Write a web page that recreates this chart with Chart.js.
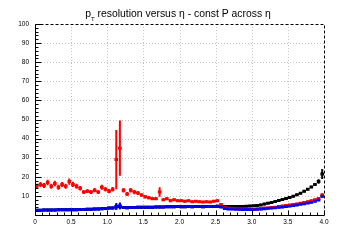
<!DOCTYPE html>
<html lang="en">
<head>
<meta charset="UTF-8">
<title>pT resolution versus eta</title>
<script src="https://cdn.jsdelivr.net/npm/chart.js"></script>
<style>
  body { margin: 0; background: #fff; }
  canvas { display: block; }
</style>
</head>
<body>
<canvas id="res-chart" width="360" height="240"></canvas>
<script>
// eta bin centres (bin width 0.05)
const etaBins = [
  0.025, 0.075, 0.125, 0.175, 0.225, 0.275, 0.325, 0.375, 0.425, 0.475,
  0.525, 0.575, 0.625, 0.675, 0.725, 0.775, 0.825, 0.875, 0.925, 0.975,
  1.025, 1.075, 1.125, 1.175, 1.225, 1.275, 1.325, 1.375, 1.425, 1.475,
  1.525, 1.575, 1.625, 1.675, 1.725, 1.775, 1.825, 1.875, 1.925, 1.975,
  2.025, 2.075, 2.125, 2.175, 2.225, 2.275, 2.325, 2.375, 2.425, 2.475,
  2.525, 2.575, 2.625, 2.675, 2.725, 2.775, 2.825, 2.875, 2.925, 2.975,
  3.025, 3.075, 3.125, 3.175, 3.225, 3.275, 3.325, 3.375, 3.425, 3.475,
  3.525, 3.575, 3.625, 3.675, 3.725, 3.775, 3.825, 3.875, 3.925, 3.975
];
const binHalfWidth = 0.025;

const resBlack = [
  2.5, 2.5, 2.6, 2.6, 2.6, 2.6, 2.7, 2.7, 2.7, 2.8,
  2.8, 2.8, 2.9, 2.9, 3.0, 3.0, 3.1, 3.2, 3.3, 3.4,
  3.6, 3.7, 4.3, 4.5, 3.9, 3.8, 3.9, 3.9, 4.0, 4.0,
  4.0, 4.1, 4.1, 4.2, 4.2, 4.2, 4.3, 4.3, 4.3, 4.4,
  4.3, 4.3, 4.4, 4.3, 4.4, 4.4, 4.3, 4.4, 4.4, 4.5,
  4.6, 4.4, 4.4, 4.4, 4.4, 4.4, 4.5, 4.5, 4.6, 4.7,
  4.8, 5.0, 5.3, 5.7, 6.2, 6.6, 7.1, 7.6, 8.1, 8.6,
  9.1, 9.8, 10.6, 11.4, 12.4, 13.5, 14.7, 16.0, 17.5, 21.5
];
const errBlack = [
  0.2, 0.2, 0.2, 0.2, 0.2, 0.2, 0.2, 0.2, 0.2, 0.2,
  0.2, 0.2, 0.2, 0.2, 0.2, 0.2, 0.2, 0.2, 0.2, 0.2,
  0.2, 0.2, 1.5, 1.5, 0.2, 0.2, 0.2, 0.2, 0.2, 0.2,
  0.2, 0.2, 0.2, 0.2, 0.2, 0.2, 0.2, 0.2, 0.2, 0.2,
  0.2, 0.2, 0.2, 0.2, 0.2, 0.2, 0.2, 0.2, 0.2, 0.2,
  0.2, 0.2, 0.2, 0.2, 0.2, 0.2, 0.2, 0.2, 0.2, 0.2,
  0.2, 0.2, 0.2, 0.2, 0.3, 0.3, 0.3, 0.3, 0.3, 0.3,
  0.3, 0.3, 0.4, 0.4, 0.4, 0.5, 0.5, 0.7, 1.2, 2.6
];

const resRed = [
  15.0, 16.0, 15.5, 17.0, 15.0, 16.5, 14.5, 16.0, 15.0, 17.5,
  16.0, 15.0, 14.0, 12.0, 12.5, 12.0, 13.0, 12.0, 14.5, 13.5,
  12.5, 13.5, 29.0, 35.0, 13.0, 11.0, 13.0, 12.0, 11.5, 10.5,
  9.5, 9.0, 8.5, 8.5, 12.0, 8.0, 8.5, 7.5, 8.0, 7.5,
  7.5, 7.2, 7.5, 7.0, 7.2, 7.0, 6.8, 7.0, 6.8, 7.2,
  7.5, 5.5, 4.0, 3.6, 3.5, 3.4, 3.3, 3.3, 3.1, 3.0,
  3.0, 3.1, 3.3, 3.6, 3.7, 3.9, 4.1, 4.4, 4.7, 5.0,
  5.2, 5.5, 5.8, 6.1, 6.5, 7.0, 7.4, 8.0, 8.6, 10.5
];
const errRed = [
  1.3, 1.3, 1.3, 1.4, 1.3, 1.4, 1.3, 1.3, 1.3, 1.6,
  1.4, 1.3, 1.2, 1.0, 1.0, 1.0, 1.1, 1.0, 1.3, 1.2,
  1.1, 1.2, 15.5, 14.5, 1.2, 1.0, 1.2, 1.1, 1.0, 0.9,
  0.8, 0.8, 0.7, 0.7, 2.5, 0.6, 0.7, 0.6, 0.6, 0.6,
  0.6, 0.5, 0.5, 0.5, 0.5, 0.5, 0.5, 0.5, 0.5, 0.5,
  0.5, 0.8, 0.4, 0.3, 0.3, 0.3, 0.3, 0.3, 0.3, 0.3,
  0.3, 0.3, 0.3, 0.3, 0.3, 0.3, 0.3, 0.3, 0.3, 0.3,
  0.3, 0.3, 0.3, 0.3, 0.3, 0.3, 0.3, 0.4, 0.4, 0.9
];

const resBlue = [
  2.5, 2.5, 2.6, 2.6, 2.6, 2.6, 2.7, 2.7, 2.7, 2.8,
  2.8, 2.8, 2.9, 2.9, 3.0, 3.0, 3.1, 3.2, 3.3, 3.4,
  3.6, 3.7, 4.5, 4.8, 3.9, 3.8, 3.9, 3.9, 4.0, 4.0,
  4.0, 4.1, 4.1, 4.2, 4.2, 4.2, 4.3, 4.3, 4.3, 4.4,
  4.3, 4.3, 4.4, 4.3, 4.4, 4.4, 4.3, 4.4, 4.4, 4.5,
  4.6, 4.2, 3.4, 3.2, 3.1, 3.0, 3.0, 2.9, 2.9, 2.9,
  2.9, 3.0, 3.1, 3.3, 3.5, 3.6, 3.8, 4.0, 4.2, 4.5,
  4.7, 5.0, 5.3, 5.6, 5.9, 6.3, 6.7, 7.2, 7.9, 9.8
];
const errBlue = [
  0.2, 0.2, 0.2, 0.2, 0.2, 0.2, 0.2, 0.2, 0.2, 0.2,
  0.2, 0.2, 0.2, 0.2, 0.2, 0.2, 0.2, 0.2, 0.2, 0.2,
  0.2, 0.2, 1.8, 1.8, 0.2, 0.2, 0.2, 0.2, 0.2, 0.2,
  0.2, 0.2, 0.2, 0.2, 0.2, 0.2, 0.2, 0.2, 0.2, 0.2,
  0.2, 0.2, 0.2, 0.2, 0.2, 0.2, 0.2, 0.2, 0.2, 0.2,
  0.2, 0.3, 0.2, 0.2, 0.2, 0.2, 0.2, 0.2, 0.2, 0.2,
  0.2, 0.2, 0.2, 0.2, 0.2, 0.2, 0.2, 0.2, 0.2, 0.2,
  0.2, 0.2, 0.2, 0.2, 0.2, 0.3, 0.3, 0.3, 0.4, 0.7
];

const xRange = [0, 4];
const yRange = [0, 100];

const font = '"Liberation Sans", Arial, sans-serif';

function toPoints(ys) {
  return etaBins.map((x, i) => ({ x: x, y: ys[i] }));
}

const series = [
  { color: '#000000', values: resBlack, errors: errBlack, order: 2 },
  { color: '#ff0000', values: resRed, errors: errRed, order: 1 },
  { color: '#0000ff', values: resBlue, errors: errBlue, order: 0 }
];

// ROOT-like frame, grid, ticks, error bars and title
const rootStyle = {
  id: 'rootStyle',
  beforeDatasetsDraw(chart) {
    const { ctx, chartArea: a, scales: { x, y } } = chart;
    ctx.save();
    // dotted grid
    ctx.strokeStyle = '#c4c4c4';
    ctx.lineWidth = 1;
    ctx.setLineDash([1, 2]);
    ctx.beginPath();
    for (let v = 0.5; v < xRange[1]; v += 0.5) {
      const px = Math.round(x.getPixelForValue(v)) + 0.5;
      ctx.moveTo(px, a.top); ctx.lineTo(px, a.bottom);
    }
    for (let v = 10; v < yRange[1]; v += 10) {
      const py = Math.round(y.getPixelForValue(v)) + 0.5;
      ctx.moveTo(a.left, py); ctx.lineTo(a.right, py);
    }
    ctx.stroke();
    ctx.setLineDash([]);

    // error bars: bin width across, error up and down
    series.forEach(s => {
      ctx.strokeStyle = s.color;
      ctx.lineWidth = 3;
      ctx.beginPath();
      etaBins.forEach((eta, i) => {
        const py = y.getPixelForValue(s.values[i]);
        ctx.moveTo(x.getPixelForValue(eta - binHalfWidth), py);
        ctx.lineTo(x.getPixelForValue(eta + binHalfWidth), py);
      });
      ctx.stroke();
      ctx.lineWidth = 2;
      ctx.beginPath();
      etaBins.forEach((eta, i) => {
        const px = x.getPixelForValue(eta);
        ctx.moveTo(px, y.getPixelForValue(s.values[i] - s.errors[i]));
        ctx.lineTo(px, y.getPixelForValue(s.values[i] + s.errors[i]));
      });
      ctx.stroke();
    });
    ctx.restore();
  },
  afterDatasetsDraw(chart) {
    const { ctx, chartArea: a, scales: { x, y } } = chart;
    const L = Math.round(a.left) + 0.5, R = Math.round(a.right) + 0.5;
    const T = Math.round(a.top) + 0.5, B = Math.round(a.bottom) + 0.5;
    ctx.save();
    ctx.strokeStyle = '#000';
    ctx.lineWidth = 1;
    // dashed top and right frame
    ctx.setLineDash([3, 2]);
    ctx.beginPath();
    ctx.moveTo(L, T); ctx.lineTo(R, T); ctx.lineTo(R, B);
    ctx.stroke();
    ctx.setLineDash([]);
    // solid axes with inward ticks
    ctx.beginPath();
    ctx.moveTo(L, T); ctx.lineTo(L, B); ctx.lineTo(R, B);
    for (let k = 0; k <= 50; k++) {
      const py = Math.round(y.getPixelForValue(k * 2)) + 0.5;
      ctx.moveTo(L, py); ctx.lineTo(L + (k % 5 === 0 ? 6 : 3), py);
    }
    for (let k = 0; k <= 40; k++) {
      const px = Math.round(x.getPixelForValue(k * 0.1)) + 0.5;
      ctx.moveTo(px, B); ctx.lineTo(px, B - (k % 5 === 0 ? 5 : 3));
    }
    ctx.stroke();
    ctx.restore();
  },
  afterDraw(chart) {
    const ctx = chart.ctx;
    const big = '10.4px ' + font, small = '6px ' + font;
    const rest = ' resolution versus η - const P across η';
    ctx.save();
    ctx.fillStyle = '#000';
    ctx.textAlign = 'left';
    ctx.textBaseline = 'alphabetic';
    ctx.font = big;
    const wp = ctx.measureText('p').width, wr = ctx.measureText(rest).width;
    ctx.font = small;
    const wt = ctx.measureText('T').width;
    const x0 = 178 - (wp + wt + wr) / 2;
    ctx.font = big; ctx.fillText('p', x0, 17);
    ctx.font = small; ctx.fillText('T', x0 + wp, 20.5);
    ctx.font = big; ctx.fillText(rest, x0 + wp + wt, 17);
    ctx.restore();
  }
};

new Chart(document.getElementById('res-chart'), {
  type: 'scatter',
  data: {
    datasets: series.map(s => ({
      data: toPoints(s.values),
      order: s.order,
      showLine: false,
      pointStyle: 'rect',
      pointRadius: 1,
      pointBorderWidth: 1,
      pointBackgroundColor: s.color,
      pointBorderColor: s.color
    }))
  },
  options: {
    responsive: false,
    animation: false,
    events: [],
    layout: { padding: { left: 0, right: 36, top: 24, bottom: 0 } },
    plugins: { legend: { display: false }, tooltip: { enabled: false } },
    scales: {
      x: {
        type: 'linear', min: xRange[0], max: xRange[1],
        afterFit: s => { s.height = 25; },
        grid: { display: false, drawTicks: false }, border: { display: false },
        ticks: { stepSize: 0.5, autoSkip: false, maxRotation: 0, padding: 3,
                 color: '#000', font: { family: font, size: 6.5 } }
      },
      y: {
        min: yRange[0], max: yRange[1],
        afterFit: s => { s.width = 35; },
        grid: { display: false, drawTicks: false }, border: { display: false },
        ticks: { stepSize: 10, padding: 6, color: '#000',
                 font: { family: font, size: 6.5 },
                 callback: v => (v === 0 ? '' : v) }
      }
    }
  },
  plugins: [rootStyle]
});
</script>
</body>
</html>
